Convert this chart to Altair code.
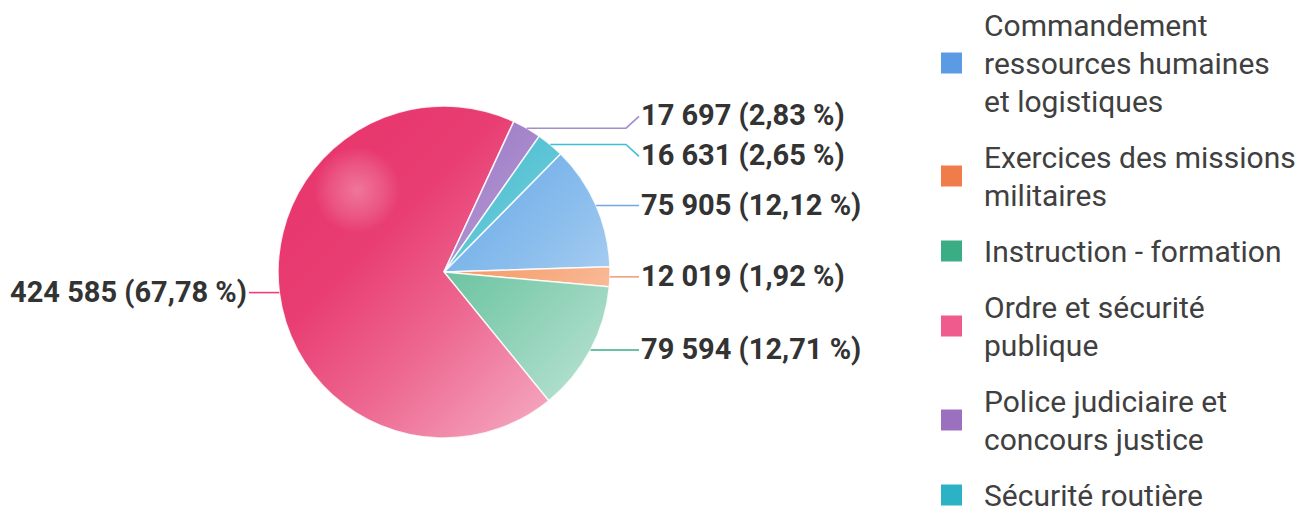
import math
import altair as alt
import pandas as pd

# ---------------- data ----------------
CATEGORIES = [
    "Commandement ressources humaines et logistiques",
    "Exercices des missions militaires",
    "Instruction - formation",
    "Ordre et sécurité publique",
    "Police judiciaire et concours justice",
    "Sécurité routière",
]
VALUES = [75905, 12019, 79594, 424585, 17697, 16631]
PERCENTS = [12.12, 1.92, 12.71, 67.78, 2.83, 2.65]
LEGEND_LINES = [
    ["Commandement", "ressources humaines", "et logistiques"],
    ["Exercices des missions", "militaires"],
    ["Instruction - formation"],
    ["Ordre et sécurité", "publique"],
    ["Police judiciaire et", "concours justice"],
    ["Sécurité routière"],
]

# ---------------- styles ----------------
LEGEND_COLORS = ["#5b9be3", "#ef7c4a", "#3aad85", "#ef5b8c", "#9b70bf", "#2bb3c5"]
SLICE_COLORS = ["#5fa5e6", "#f3803f", "#4ab68c", "#e7326a", "#9a76c4", "#3bb9cd"]
LINE_COLORS = ["#6fa9e3", "#f0a080", "#3aad85", "#e8407a", "#a58bd0", "#3fbfcf"]

# ---------------- layout (reference pixel space) ----------------
W, H = 1288, 510
OFF = 8
CX, CY, R = 444, 272, 166
START_DEG = 44.6
LABEL_GAP = 40
LEG_SYM_X, LEG_TEXT_X = 951.5, 984
LEG_Y0, LINE_H, ENTRY_GAP = 27, 38, 18

XS = alt.Scale(domain=[OFF, OFF + W], nice=False, zero=False)
YS = alt.Scale(domain=[OFF, OFF + H], nice=False, zero=False, reverse=True)


def fr_number(v):
    return f"{v:,}".replace(",", " ")


def fr_pct(p):
    return f"{p:.2f}".replace(".", ",")


total = sum(VALUES)
pie_df = pd.DataFrame({
    "cat": CATEGORIES,
    "value": VALUES,
    "idx": list(range(len(CATEGORIES))),
    "slice_color": SLICE_COLORS,
})

# label anchors from the slice mid angles
anchors = []
cum = 0
for i, v in enumerate(VALUES):
    mid = math.radians(START_DEG + (cum + v / 2) / total * 360)
    cum += v
    ax = CX + R * math.sin(mid)
    ay = CY - R * math.cos(mid)
    anchors.append((ax, ay, "right" if math.sin(mid) > 0 else "left"))


def spread(items, gap):
    items = sorted(items)
    clusters = [[it] for it in items]

    def pos(cl):
        m = sum(c[0] for c in cl) / len(cl)
        n = len(cl)
        return [m + (k - (n - 1) / 2) * gap for k in range(n)]

    changed = True
    while changed:
        changed = False
        for j in range(len(clusters) - 1):
            if pos(clusters[j + 1])[0] - pos(clusters[j])[-1] < gap:
                clusters[j] = clusters[j] + clusters[j + 1]
                del clusters[j + 1]
                changed = True
                break
    out = {}
    for cl in clusters:
        for c, y in zip(cl, pos(cl)):
            out[c[1]] = y
    return out


label_y = {}
for side in ("right", "left"):
    items = [(a[1], i) for i, a in enumerate(anchors) if a[2] == side]
    label_y.update(spread(items, LABEL_GAP))

line_rows, label_rows = [], []
for i, (ax, ay, side) in enumerate(anchors):
    ly = label_y[i]
    sgn = 1 if side == "right" else -1
    elbow = CX + sgn * (R + 16)
    end = CX + sgn * (R + 29)
    for k, (px, py) in enumerate([(ax, ay), (elbow, ay), (end, ly)]):
        line_rows.append({"cat": CATEGORIES[i], "k": k, "x": px, "y": py,
                          "c": LINE_COLORS[i]})
    label_rows.append({
        "cat": CATEGORIES[i], "side": side,
        "x": end + sgn * 2, "y": ly,
        "text": f"{fr_number(VALUES[i])} ({fr_pct(PERCENTS[i])} %)",
    })
lines_df = pd.DataFrame(line_rows)
labels_df = pd.DataFrame(label_rows)

# legend layout
sym_rows, leg_rows = [], []
y = LEG_Y0
for i, lines in enumerate(LEGEND_LINES):
    ys = [y + k * LINE_H for k in range(len(lines))]
    sym_rows.append({"x": LEG_SYM_X, "y": (ys[0] + ys[-1]) / 2 - 2,
                     "c": LEGEND_COLORS[i]})
    for t, yy in zip(lines, ys):
        leg_rows.append({"x": LEG_TEXT_X, "y": yy, "text": t})
    y = ys[-1] + LINE_H + ENTRY_GAP
sym_df = pd.DataFrame(sym_rows)
leg_df = pd.DataFrame(leg_rows)


def X(f):
    return alt.X(f, type="quantitative", scale=XS, axis=None)


def Y(f):
    return alt.Y(f, type="quantitative", scale=YS, axis=None)


CXD = alt.XDatum(CX, scale=XS, axis=None)
CYD = alt.YDatum(CY, scale=YS, axis=None)

pie = alt.Chart(pie_df).mark_arc(radius=R, stroke="white", strokeWidth=1.5,
                                 strokeOpacity=0.85).encode(
    theta=alt.Theta("value:Q", stack=True,
                    scale=alt.Scale(range=[math.radians(START_DEG),
                                           math.radians(START_DEG) + 2 * math.pi])),
    order=alt.Order("idx:Q"),
    color=alt.Color("slice_color:N", scale=None),
    x=CXD, y=CYD,
)

one = pd.DataFrame({"a": [0]})
shade = alt.Chart(one).mark_arc(
    radius=R,
    fill=alt.LinearGradient(
        gradient="linear", x1=0, y1=0, x2=1, y2=1,
        stops=[
            alt.GradientStop(offset=0, color="rgba(255,255,255,0)"),
            alt.GradientStop(offset=0.35, color="rgba(255,255,255,0.06)"),
            alt.GradientStop(offset=0.6, color="rgba(255,255,255,0.28)"),
            alt.GradientStop(offset=1, color="rgba(255,255,255,0.7)"),
        ],
    ),
).encode(theta=alt.value(0), theta2=alt.value(2 * math.pi), x=CXD, y=CYD)

highlight = alt.Chart(one).mark_arc(
    radius=R,
    fill=alt.RadialGradient(
        gradient="radial", x1=0.238, y1=0.253, r1=0, x2=0.238, y2=0.253, r2=0.13,
        stops=[
            alt.GradientStop(offset=0, color="rgba(255,255,255,0.3)"),
            alt.GradientStop(offset=0.6, color="rgba(255,255,255,0.14)"),
            alt.GradientStop(offset=1, color="rgba(255,255,255,0)"),
        ],
    ),
).encode(theta=alt.value(0), theta2=alt.value(2 * math.pi), x=CXD, y=CYD)

leaders = alt.Chart(lines_df).mark_line(strokeWidth=1.6).encode(
    x=X("x"), y=Y("y"), detail="cat:N", order="k:Q",
    color=alt.Color("c:N", scale=None),
)

lab_style = dict(baseline="middle", font="Roboto", fontWeight="bold",
                 fontSize=29, color="#333333")
labels_r = alt.Chart(labels_df).transform_filter("datum.side == 'right'").mark_text(
    align="left", **lab_style).encode(x=X("x"), y=Y("y"), text="text:N")
labels_l = alt.Chart(labels_df).transform_filter("datum.side == 'left'").mark_text(
    align="right", **lab_style).encode(x=X("x"), y=Y("y"), text="text:N")

leg_sym = alt.Chart(sym_df).mark_square(size=441, opacity=1).encode(
    x=X("x"), y=Y("y"), color=alt.Color("c:N", scale=None))
leg_txt = alt.Chart(leg_df).mark_text(
    align="left", baseline="middle", font="Roboto", fontSize=30, color="#404040"
).encode(x=X("x"), y=Y("y"), text="text:N")

chart = alt.layer(
    pie, shade, highlight, leaders, labels_r, labels_l, leg_sym, leg_txt
).properties(
    width=W, height=H, padding=0, autosize=alt.AutoSizeParams(type="none"),
    background="white",
).configure_view(stroke=None)

chart.save("out.html", embed_options={"renderer": "svg", "actions": False})
